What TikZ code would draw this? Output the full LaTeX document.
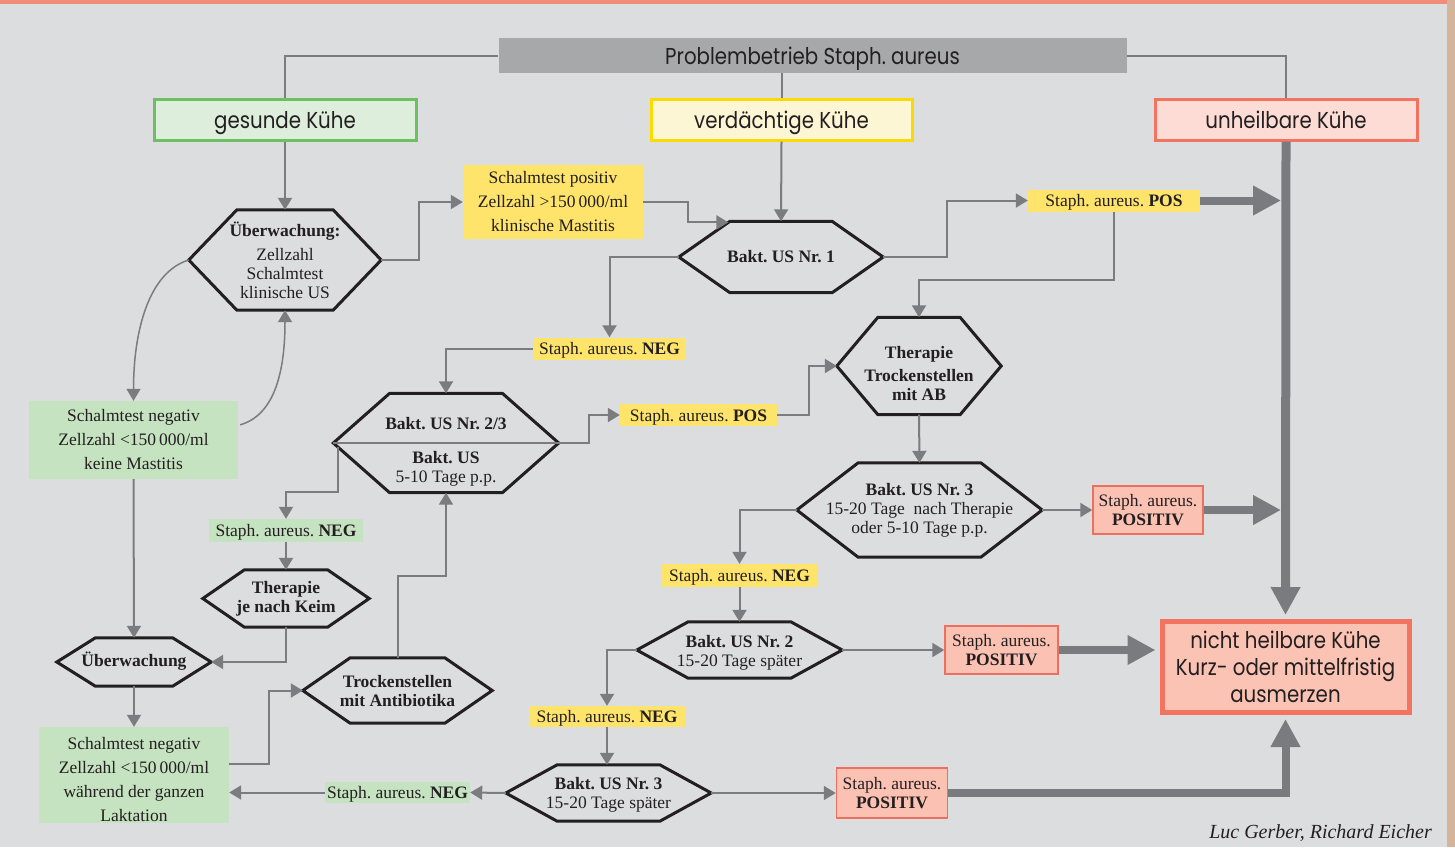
\documentclass[tikz,border=0pt]{standalone}
\usepackage{fontspec}
\setmainfont{Liberation Serif}
\newfontfamily\fut[FakeStretch=0.86]{Poppins}
\usetikzlibrary{arrows.meta,calc}
\definecolor{bg}{HTML}{DCDDDF}
\definecolor{ink}{HTML}{231F20}
\definecolor{lgray}{HTML}{7B7C80}
\definecolor{dgray}{HTML}{7A7B7F}
\definecolor{tgray}{HTML}{A7A8AA}
\definecolor{ylw}{HTML}{FFE46B}
\definecolor{grn}{HTML}{C6E3C1}
\definecolor{redf}{HTML}{FBC2B3}
\definecolor{redb}{HTML}{EE6F5E}
\definecolor{gkf}{HTML}{DDEEDC}
\definecolor{gkb}{HTML}{6CC062}
\definecolor{vkf}{HTML}{FDF6D4}
\definecolor{vkb}{HTML}{FBDA00}
\definecolor{ukf}{HTML}{FCDCD4}
\definecolor{ukb}{HTML}{F2735F}
\definecolor{nhf}{HTML}{FBC3B4}
\definecolor{topbar}{HTML}{F28C7A}
\definecolor{strip}{HTML}{D6B49C}
\begin{document}
\frenchspacing
\begin{tikzpicture}[x=1pt,y=-1pt,
  serif/.style={font=\fontsize{17.5}{19}\selectfont, text=ink},
  hexa/.style={serif, inner sep=0pt, align=center},
  lab/.style={serif, inner sep=0pt, align=center},
  slab/.style={lab, text height=15pt, text depth=3pt},
  ylab/.style={slab, fill=ylw},
  glab/.style={slab, fill=grn},
  gbox/.style={lab, fill=grn, font=\fontsize{17.5}{24}\selectfont},
  rlab/.style={lab, fill=redf, draw=redb, line width=1.5pt},
  bigtext/.style={font={\fut\fontsize{23}{27}\selectfont}, inner sep=0pt, text=ink, align=center},
  bigone/.style={bigtext, text height=21pt, text depth=4pt},
  conn/.style={draw=lgray, line width=2pt},
  arr/.style={conn, -{Triangle[length=12pt,width=14pt]}},
  fat/.style={draw=dgray, line width=8pt, line join=miter, -{Triangle[length=28pt,width=28pt]}},
  hexline/.style={draw=ink, line width=3pt, line join=miter}
]
\useasboundingbox (0,0) rectangle (1455,847);
\fill[bg] (0,0) rectangle (1455,847);
\fill[topbar] (0,0) rectangle (1447,3.5);
\fill[strip] (1447,0) rectangle (1455,847);

% title and category boxes
\node[bigone, fill=tgray, minimum width=628pt, minimum height=35pt] (title) at (812.5,55.5) {Problembetrieb Staph. aureus};
\node[bigone, fill=gkf, draw=gkb, line width=3pt, minimum width=262pt, minimum height=41pt] (gk) at (285,119.5) {gesunde Kühe};
\node[bigone, fill=vkf, draw=vkb, line width=3pt, minimum width=261pt, minimum height=41pt] (vk) at (781.5,119.5) {verdächtige Kühe};
\node[bigone, fill=ukf, draw=ukb, line width=3pt, minimum width=262pt, minimum height=41pt] (uk) at (1286,119.5) {unheilbare Kühe};
\node[bigtext, fill=nhf, draw=ukb, line width=5pt, minimum width=247pt, minimum height=91pt] (nh) at (1285.5,667) {nicht heilbare Kühe\\Kurz- oder mittelfristig\\ausmerzen};

% hexagon nodes
\node[hexa, minimum width=192pt, minimum height=100pt] (ue1) at (285,260) {\textbf{Überwachung:}\\[5pt]Zellzahl\\Schalmtest\\klinische US};
\node[hexa, minimum width=204pt, minimum height=71pt] (b1) at (781,257) {\textbf{Bakt. US Nr. 1}};
\node[hexa, minimum width=225pt, minimum height=99pt] (b23) at (446,443) {};
\node[hexa] (b23t) at (446,452) {\textbf{Bakt. US Nr. 2/3}\\[15pt]\textbf{Bakt. US}\\5-10 Tage p.p.};
\node[hexa, minimum width=164pt, minimum height=97pt] (tab) at (919,366) {};
\node[hexa] (tabt) at (919,374) {\textbf{Therapie}\\[4pt]\textbf{Trockenstellen}\\\textbf{mit AB}};
\node[hexa, minimum width=245pt, minimum height=94pt] (b3a) at (919.5,510) {\textbf{Bakt. US Nr. 3}\\15-20 Tage\enspace nach Therapie\\oder 5-10 Tage p.p.};
\node[hexa, minimum width=205pt, minimum height=56pt] (b2) at (739.5,650) {};
\node[hexa] (b2t) at (739.5,653) {\textbf{Bakt. US Nr. 2}\\15-20 Tage später};
\node[hexa, minimum width=205pt, minimum height=56pt] (b3b) at (608.5,793) {};
\node[hexa] (b3bt) at (608.5,795) {\textbf{Bakt. US Nr. 3}\\15-20 Tage später};
\node[hexa, minimum width=189pt, minimum height=65pt] (tro) at (397.5,690.5) {\textbf{Trockenstellen}\\\textbf{mit Antibiotika}};
\node[hexa, minimum width=166pt, minimum height=57pt] (tk) at (286,598.5) {\textbf{Therapie}\\\textbf{je nach Keim}};
\node[hexa, minimum width=154pt, minimum height=48pt, text height=13pt, text depth=4pt] (ue2) at (134,662) {\textbf{Überwachung}};

\foreach \n in {ue1,b1,b23,tab,b3a,b2,b3b,tro,tk,ue2}
  \draw[hexline] (\n.west) -- ($(\n.north west)!.25!(\n.north east)$) -- ($(\n.north west)!.75!(\n.north east)$) -- (\n.east) -- ($(\n.south west)!.75!(\n.south east)$) -- ($(\n.south west)!.25!(\n.south east)$) -- cycle;
\draw[conn] (b23.west) -- (b23.east);

% label boxes
\node[lab, fill=ylw, minimum width=180pt, minimum height=74pt, font=\fontsize{17.5}{24}\selectfont] (sp) at (553,202) {Schalmtest positiv\\Zellzahl >150\,000/ml\\klinische Mastitis};
\node[gbox, minimum width=209pt, minimum height=78pt] (g1) at (133.5,440) {Schalmtest negativ\\Zellzahl <150\,000/ml\\keine Mastitis};
\node[gbox, minimum width=190pt, minimum height=96pt] (g2) at (134,775) {};
\node[gbox, fill=none] (g2t) at (134,779) {Schalmtest negativ\\Zellzahl <150\,000/ml\\während der ganzen\\Laktation};
\node[ylab, minimum width=172pt, minimum height=22pt] (pos1) at (1114,200.5) {Staph. aureus. \textbf{POS}};
\node[ylab, minimum width=153pt, minimum height=22pt] (neg1) at (609.5,348.5) {Staph. aureus. \textbf{NEG}};
\node[ylab, minimum width=157pt, minimum height=22pt] (pos2) at (698.5,415) {Staph. aureus. \textbf{POS}};
\node[ylab, minimum width=155pt, minimum height=23pt] (neg2) at (739.5,575.5) {Staph. aureus. \textbf{NEG}};
\node[ylab, minimum width=156pt, minimum height=21pt] (neg3) at (607,716.5) {Staph. aureus. \textbf{NEG}};
\node[glab, minimum width=145pt, minimum height=21pt] (neg4) at (397.5,792.5) {Staph. aureus. \textbf{NEG}};
\node[glab, minimum width=154pt, minimum height=23pt] (neg5) at (286,530.5) {Staph. aureus. \textbf{NEG}};
\node[rlab, minimum width=110pt, minimum height=48pt] (r1) at (1148,510) {Staph. aureus.\\\textbf{POSITIV}};
\node[rlab, minimum width=113pt, minimum height=48pt] (r2) at (1001.5,650) {Staph. aureus.\\\textbf{POSITIV}};
\node[rlab, minimum width=111pt, minimum height=50pt] (r3) at (892,793) {Staph. aureus.\\\textbf{POSITIV}};

\node[anchor=base east, font=\itshape\fontsize{20}{22}\selectfont, text=ink, inner sep=0pt] (cred) at (1432,838) {Luc Gerber, Richard Eicher};

% helper coordinates
\coordinate (b1tl) at ($(b1.north west)!.25!(b1.north east)$);
\coordinate (b1in) at ($(b1.west)!.97!(b1tl)$);
\coordinate (b23bl) at ($(b23.south west)!.25!(b23.south east)$);
\coordinate (b23in) at ($(b23.west)!.09!(b23bl)$);
\coordinate (g2r) at ($(g2.east)+(0,-11)$);
\coordinate (g1r) at ($(g1.north east)+(2,24)$);

% thin connectors
\draw[conn] (title.west) -| (gk.north);
\draw[conn] (title.east) -| (uk.north);
\draw[conn] (vk.north |- title.south) -- (vk.north);
\draw[arr] (gk.south) -- (ue1.north);
\draw[arr] (vk.south) -- (b1.north);
\draw[arr] (ue1.east) -- ++(38,0) |- (sp.west);
\draw[arr] (sp.east) -- ++(45,0) |- (b1in);
\draw[arr] (b1.west) -| (neg1.north);
\draw[arr] (neg1.west) -| (b23.north);
\draw[arr] (b23.east) -- ++(30,0) |- (pos2.west);
\draw[arr] (pos2.east) -- ++(32,0) |- (tab.west);
\draw[arr] (pos1.south) -- ++(0,68) -| (tab.north);
\draw[arr] (b1.east) -- ++(64,0) |- (pos1.west);
\draw[arr] (tab.south) -- (b3a.north);
\draw[arr] (b3a.east) -- (r1.west);
\draw[arr] (b3a.west) -| (neg2.north);
\draw[arr] (neg2.south) -- (b2.north);
\draw[arr] (b2.east) -- (r2.west);
\draw[arr] (b2.west) -| (neg3.north);
\draw[arr] (neg3.south) -- (neg3.south |- b3b.north);
\draw[arr] (b3b.east) -- (r3.west);
\draw[arr] (b3b.west) -- (neg4.east);
\draw[arr] (neg4.west) -- (g2.east |- neg4.west);
\draw[arr] (g2r) -- ++(40,0) |- (tro.west);
\draw[arr] (tro.north) -- ++(0,-82) -| (b23.south);
\draw[arr] (b23in) -- ++(0,45) -| (neg5.north);
\draw[arr] (neg5.south) -- (tk.north);
\draw[arr] (tk.south) |- (ue2.east);
\draw[arr] (g1.south) -- (ue2.north);
\draw[arr] (ue2.south) -- (g2.north);
\draw[arr, line width=1.5pt] (ue1.west) .. controls +(-40,12) and +(0,-70) .. (g1.north);
\draw[arr, line width=1.5pt] (g1r) .. controls +(35,-10) and +(0,60) .. (ue1.south);

% thick arrows
\draw[fat, line width=9pt] (uk.south) -- ($(nh.north)+(0,-4)$);
\draw[fat] (pos1.east) -- ($(uk.south |- pos1.east)+(-5,0)$);
\draw[fat] (r1.east) -- ($(uk.south |- r1.east)+(-5,0)$);
\draw[fat] (r2.east) -- ($(r2.east -| nh.west)+(-4,0)$);
\draw[fat] (r3.east) -| ($(nh.south)+(0,4)$);
\end{tikzpicture}
\end{document}
